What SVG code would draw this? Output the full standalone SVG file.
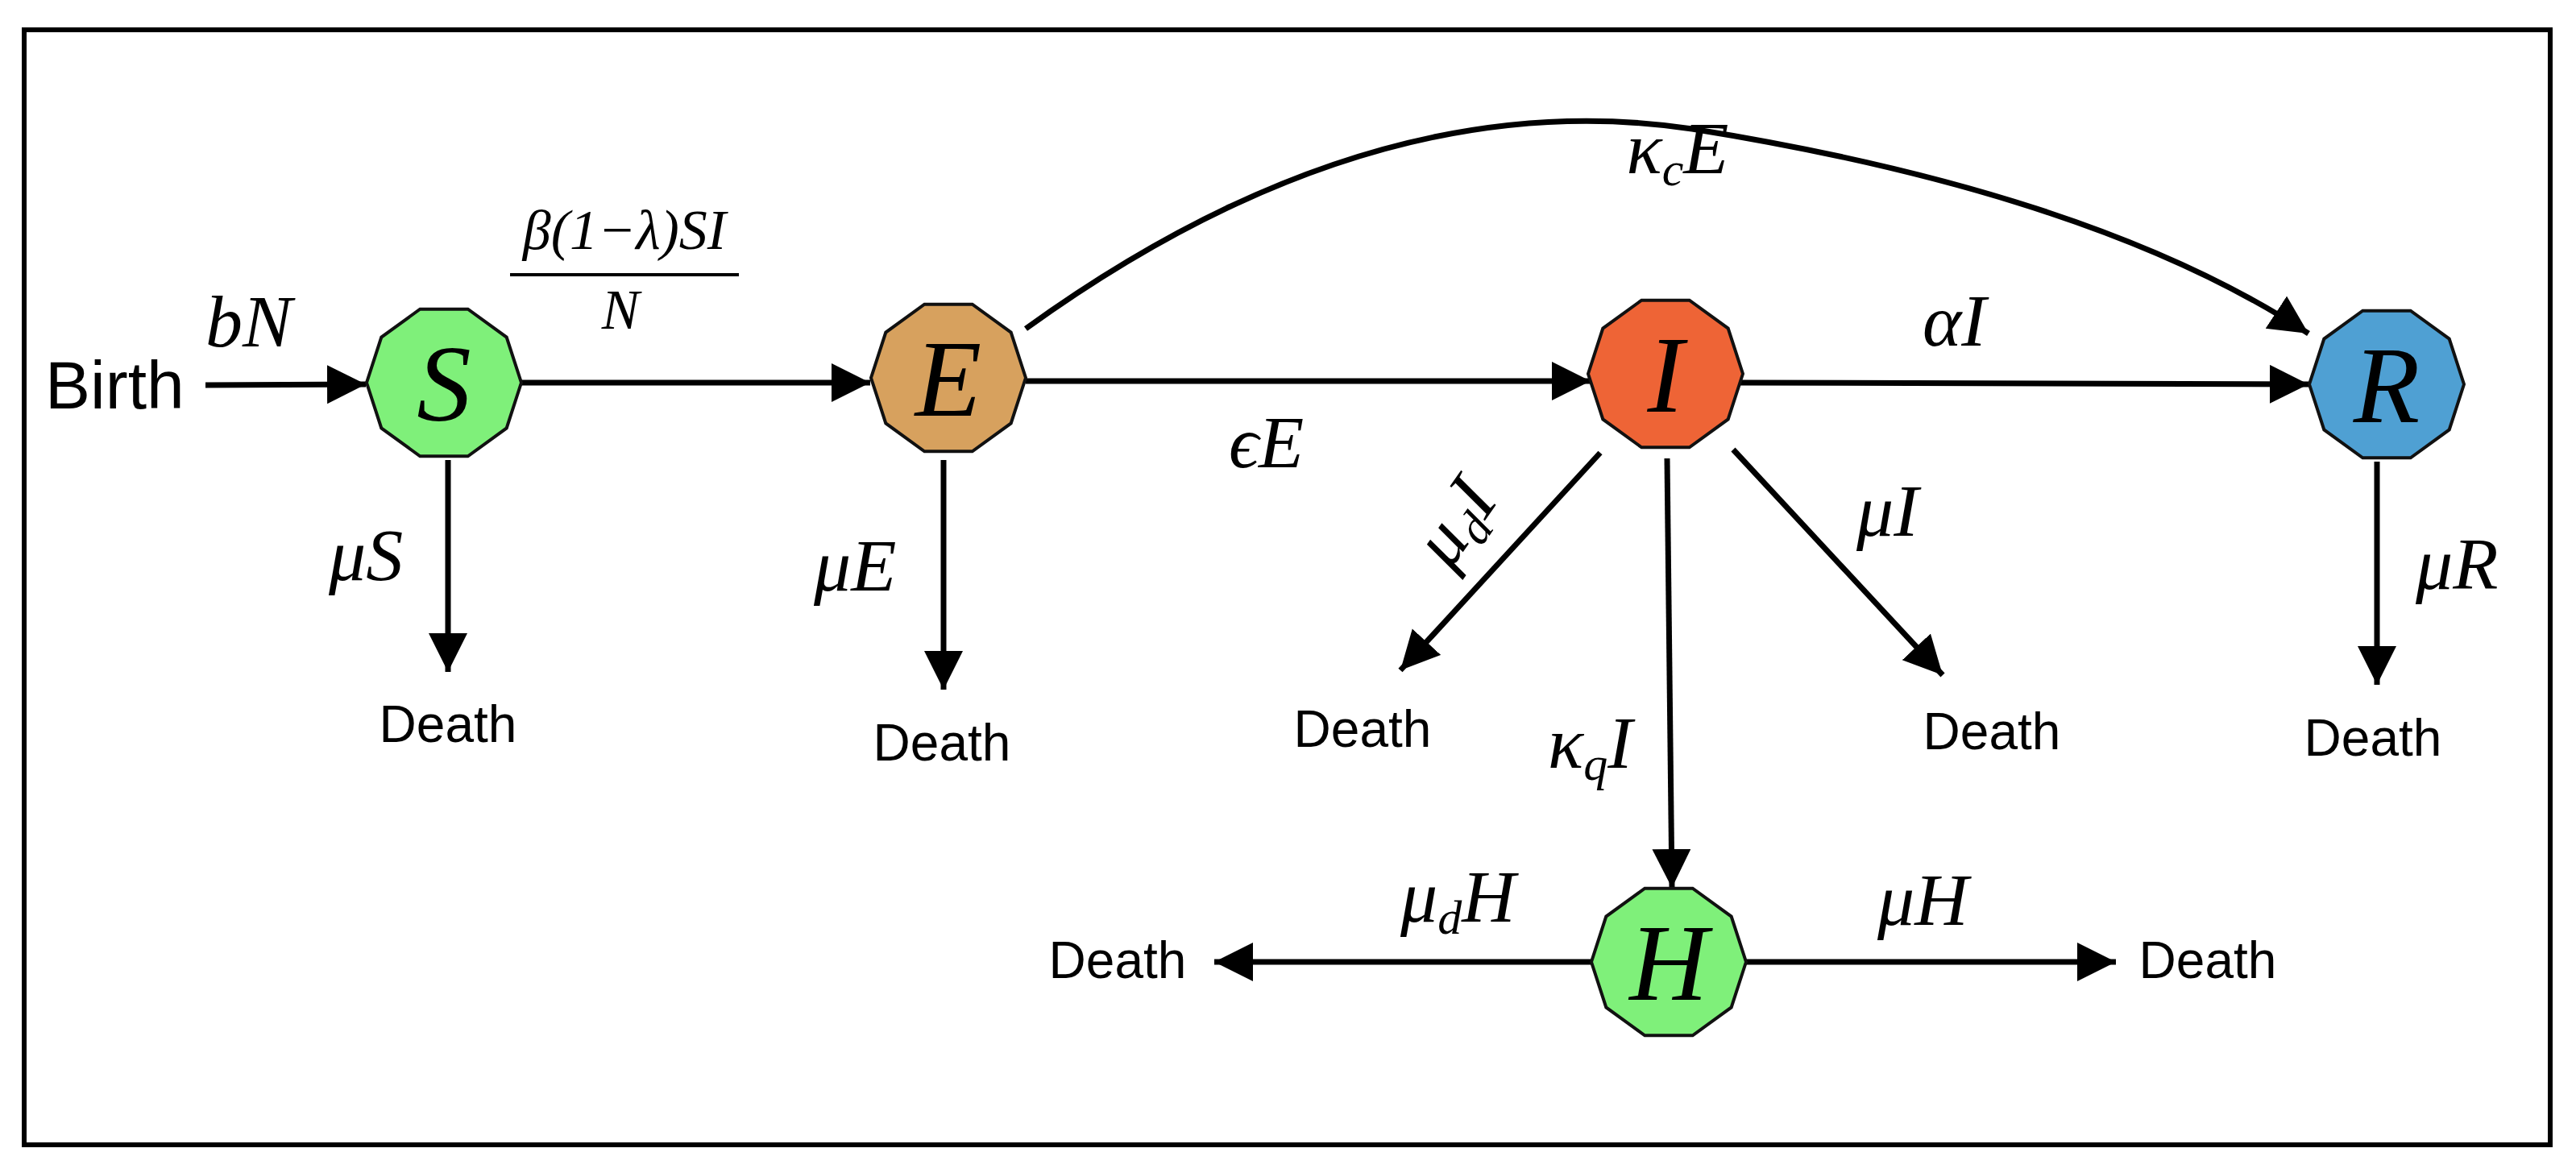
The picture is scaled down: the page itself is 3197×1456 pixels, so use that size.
<svg xmlns="http://www.w3.org/2000/svg" width="3197" height="1456" viewBox="0 0 3197 1456">
<style>
.m{font-family:"Liberation Serif",serif;font-style:italic;fill:#000}
.d{font-family:"Liberation Sans",Arial,sans-serif;font-size:64px;fill:#000;text-anchor:middle}
.n{stroke:#111;stroke-width:4}
.c{stroke:#000;stroke-width:7;fill:none;marker-end:url(#a)}
</style>
<defs>
<marker id="a" markerUnits="userSpaceOnUse" markerWidth="52" markerHeight="52" refX="48" refY="24" orient="auto"><path d="M0,0 L48,24 L0,48 Z" fill="#000"/></marker>
<polygon id="dec" points="96,0 77.7,56.4 29.7,91.3 -29.7,91.3 -77.7,56.4 -96,0 -77.7,-56.4 -29.7,-91.3 29.7,-91.3 77.7,-56.4"/>
</defs>
<rect x="30" y="37" width="3135" height="1384" fill="#fff" stroke="#000" stroke-width="6"/>
<g id="connectors">
<path class="c" d="M255,478 L454,477"/>
<path class="c" d="M645,475 L1080,475"/>
<path class="c" d="M1273,473 L1974,473"/>
<path class="c" d="M2160,475 L2865,477"/>
<path class="c" d="M1273,408 Q1700,100 2100,160 Q2600,240 2865,414"/>
<path class="c" d="M556,571 L556,834"/>
<path class="c" d="M1171,571 L1171,856"/>
<path class="c" d="M2950,573 L2950,850"/>
<path class="c" d="M1986,562 L1738,832"/>
<path class="c" d="M2151,558 L2411,838"/>
<path class="c" d="M2069,569 L2075,1102"/>
<path class="c" d="M2166,1194 L2626,1194"/>
<path class="c" d="M1978,1194 L1507,1194"/>
</g>
<g id="S"><use href="#dec" x="551" y="475" fill="#7ff07a" class="n"/><text class="m" x="551" y="522" font-size="135" text-anchor="middle">S</text></g>
<g id="E"><use href="#dec" x="1177" y="469" fill="#d7a15e" class="n"/><text class="m" x="1177" y="516" font-size="135" text-anchor="middle">E</text></g>
<g id="I"><use href="#dec" x="2067" y="464" fill="#ee6436" class="n"/><text class="m" x="2067" y="511" font-size="135" text-anchor="middle">I</text></g>
<g id="R"><use href="#dec" x="2962" y="477" fill="#4fa0d3" class="n"/><text class="m" x="2962" y="524" font-size="135" text-anchor="middle">R</text></g>
<g id="H"><use href="#dec" x="2071" y="1194" fill="#7ff07a" class="n"/><text class="m" x="2071" y="1241" font-size="135" text-anchor="middle">H</text></g>
<g id="labels">
<text x="56" y="507" font-family="Liberation Sans,Arial,sans-serif" font-size="84">Birth</text>
<text class="m" x="255" y="430" font-size="92">bN</text>
<text class="m" x="775" y="309" font-size="70" text-anchor="middle">β(1−λ)SI</text>
<line x1="633" y1="341" x2="917" y2="341" stroke="#000" stroke-width="4"/>
<text class="m" x="770" y="408" font-size="70" text-anchor="middle">N</text>
<text class="m" x="408" y="720" font-size="92">μS</text>
<text class="m" x="1010" y="733" font-size="92">μE</text>
<text class="m" x="1525" y="580" font-size="92">ϵE</text>
<text class="m" x="2082" y="215" font-size="92" text-anchor="middle">κ<tspan font-size="60" dy="15">c</tspan><tspan dy="-15">E</tspan></text>
<text class="m" x="2386" y="429" font-size="92">αI</text>
<text class="m" x="2998" y="731" font-size="92">μR</text>
<text class="m" x="2304" y="665" font-size="92">μI</text>
<text class="m" x="0" y="0" font-size="92" text-anchor="middle" transform="translate(1830,665) rotate(-55)">μ<tspan font-size="60" dy="15">d</tspan><tspan dy="-15">I</tspan></text>
<text class="m" x="1921" y="953" font-size="92">κ<tspan font-size="60" dy="15">q</tspan><tspan dy="-15">I</tspan></text>
<text class="m" x="1738" y="1144" font-size="92">μ<tspan font-size="60" dy="15">d</tspan><tspan dy="-15">H</tspan></text>
<text class="m" x="2330" y="1148" font-size="92">μH</text>
<text class="d" x="556" y="921">Death</text>
<text class="d" x="1169" y="944">Death</text>
<text class="d" x="1691" y="927">Death</text>
<text class="d" x="2472" y="930">Death</text>
<text class="d" x="2945" y="938">Death</text>
<text class="d" x="2740" y="1214">Death</text>
<text class="d" x="1387" y="1214">Death</text>
</g>
</svg>
